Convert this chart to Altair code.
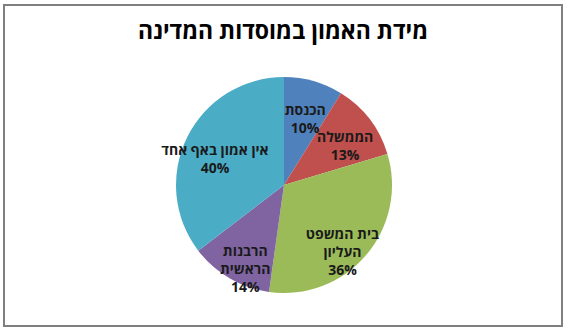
import altair as alt
import pandas as pd

categories = ["הכנסת", "הממשלה", "בית המשפט העליון", "הרבנות הראשית", "אין אמון באף אחד"]
values = [10, 13, 36, 14, 40]
label_lines = [["הכנסת"], ["הממשלה"], ["בית המשפט", "העליון"], ["הרבנות", "הראשית"], ["אין אמון באף אחד"]]
colors = ["#4F81BD", "#C0504D", "#9BBB59", "#8064A2", "#4BACC6"]
title_text = "מידת האמון במוסדות המדינה"

df = pd.DataFrame({
    "category": categories,
    "value": values,
    "order": list(range(len(categories))),
    "label": ["\n".join(lines + [f"{v}%"]) for lines, v in zip(label_lines, values)],
})

CX, CY, R = 280, 180, 108

base = alt.Chart(df).encode(
    theta=alt.Theta("value:Q", stack=True),
    order=alt.Order("order:Q"),
)

arcs = base.mark_arc(stroke=None).encode(
    color=alt.Color("category:N", scale=alt.Scale(domain=categories, range=colors), legend=None),
    x=alt.value(CX), y=alt.value(CY),
    radius=alt.value(R),
)

texts = base.mark_text(
    font="Open Sans", fontSize=14, fontWeight="bold", color="#1a1a1a",
    lineBreak="\n", lineHeight=18, align="center", baseline="middle",
).encode(
    text="label:N",
    x=alt.value(CX), y=alt.value(CY),
    radius=alt.value(77),
)

chart = alt.layer(arcs, texts).properties(
    width=558, height=321,
    padding={"left": 4, "top": 5, "right": 7, "bottom": 8},
    autosize="none",
    title=alt.Title(title_text, font="Open Sans", fontSize=23, fontWeight="bold",
                    color="black", anchor="middle", dy=43),
).configure_view(stroke="#7f7f7f", strokeWidth=2)

chart.save("out.html", embed_options={"renderer": "svg", "actions": False})
